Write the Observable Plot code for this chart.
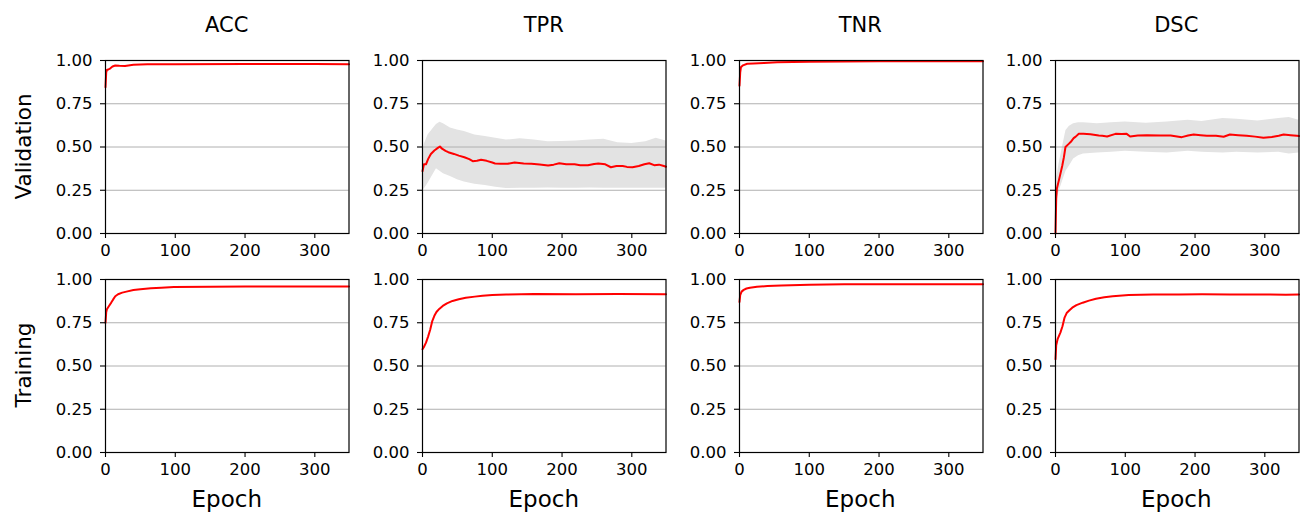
<!DOCTYPE html>
<html>
<head>
<meta charset="utf-8">
<script src="https://cdn.jsdelivr.net/npm/d3@7"></script>
<script src="https://cdn.jsdelivr.net/npm/@observablehq/plot@0.6"></script>
<style>
  html, body { margin: 0; padding: 0; background: #fff; }
  #root { position: relative; width: 1301px; height: 513px; background: #fff; overflow: hidden; font-family: "DejaVu Sans", sans-serif; }
  #root > div.panel { position: absolute; }
  #root > div.panel svg { max-width: none !important; }
  #labels { position: absolute; left: 0; top: 0; pointer-events: none; }
</style>
</head>
<body>
<div id="root"></div>
<script>
// ---------- data ----------
const metrics = ["ACC", "TPR", "TNR", "DSC"];
const phases = ["Validation", "Training"];
const xTicks = [0, 100, 200, 300];
const yTicks = [0, 0.25, 0.5, 0.75, 1.0];
const xLabel = "Epoch";

// validation mean curves: [epoch, value]
const accVal = [[0,0.846],[1,0.93],[2,0.945],[4,0.948],[7,0.955],[10,0.965],[14,0.971],[20,0.969],[28,0.968],[40,0.975],[60,0.978],[100,0.979],[200,0.98],[300,0.98],[349,0.979]];
const tprVal = [[0,0.36],[2,0.40],[5,0.40],[8,0.43],[12,0.46],[17,0.48],[22,0.495],[25,0.503],[28,0.49],[33,0.478],[37,0.47],[45,0.46],[52,0.45],[60,0.441],[67,0.43],[72,0.418],[78,0.42],[84,0.426],[92,0.42],[100,0.41],[104,0.405],[112,0.403],[122,0.403],[132,0.41],[145,0.405],[156,0.403],[168,0.399],[180,0.393],[188,0.398],[196,0.406],[206,0.40],[218,0.40],[226,0.395],[237,0.394],[246,0.402],[252,0.405],[262,0.40],[270,0.383],[278,0.39],[287,0.39],[293,0.385],[301,0.383],[310,0.39],[318,0.40],[325,0.406],[332,0.395],[339,0.398],[346,0.39],[349,0.386]];
const tnrVal = [[0,0.855],[1,0.93],[2,0.961],[5,0.972],[11,0.981],[20,0.983],[35,0.986],[54,0.99],[100,0.993],[200,0.995],[349,0.995]];
const dscVal = [[0,0.0],[1,0.2],[2,0.26],[5,0.31],[9.6,0.39],[12,0.44],[14.3,0.50],[19,0.518],[22,0.53],[26,0.551],[29,0.56],[33.4,0.576],[40,0.576],[50,0.574],[62,0.567],[67,0.565],[74,0.561],[86,0.576],[95,0.575],[102,0.576],[107,0.561],[118,0.566],[131,0.568],[150,0.566],[165,0.567],[181,0.557],[190,0.566],[198,0.572],[208,0.568],[217,0.565],[230,0.565],[241,0.559],[250,0.572],[262,0.568],[274,0.565],[286,0.56],[298,0.553],[310,0.558],[320,0.565],[327,0.572],[337,0.568],[346,0.565],[349,0.563]];

// validation spread bands
const tprBandEpoch = [0,3,8,15,20,25,30,40,50,60,75,90,105,120,140,160,180,200,220,240,260,280,300,320,335,349];
const tprBandHigh  = [0.47,0.52,0.57,0.605,0.63,0.643,0.635,0.61,0.598,0.59,0.57,0.56,0.55,0.54,0.547,0.54,0.53,0.532,0.535,0.54,0.545,0.525,0.52,0.53,0.55,0.535];
const tprBandLow   = [0.25,0.26,0.29,0.34,0.374,0.36,0.345,0.33,0.31,0.297,0.285,0.277,0.268,0.26,0.262,0.262,0.263,0.262,0.262,0.263,0.262,0.262,0.262,0.262,0.262,0.262];
const dscBandEpoch = [0,2,5,10,15,20,26,33,40,60,80,100,130,160,190,210,240,260,290,320,335,349];
const dscBandHigh  = [0.05,0.33,0.40,0.50,0.595,0.62,0.634,0.64,0.64,0.635,0.64,0.645,0.638,0.645,0.655,0.648,0.665,0.66,0.65,0.665,0.67,0.655];
const dscBandLow   = [0.0,0.2,0.24,0.3,0.36,0.39,0.43,0.45,0.46,0.465,0.47,0.475,0.47,0.465,0.475,0.47,0.465,0.47,0.465,0.47,0.46,0.465];

// training mean curves
const accTrain = [[0,0.75],[1,0.81],[2,0.828],[5,0.847],[8,0.865],[11,0.885],[14,0.903],[18,0.915],[24,0.924],[30,0.93],[40,0.939],[50,0.944],[65,0.949],[80,0.953],[98,0.956],[150,0.958],[200,0.959],[250,0.96],[300,0.96],[349,0.96]];
const tprTrain = [[0,0.597],[2,0.61],[5,0.635],[8,0.67],[11,0.71],[14,0.76],[17,0.79],[20,0.812],[24,0.83],[29,0.847],[35,0.862],[43,0.876],[52,0.886],[62,0.895],[75,0.901],[86,0.906],[100,0.91],[120,0.913],[160,0.916],[220,0.915],[280,0.916],[349,0.915]];
const tnrTrain = [[0,0.87],[1,0.91],[3,0.93],[6,0.94],[10,0.948],[15,0.952],[25,0.958],[40,0.962],[60,0.966],[100,0.97],[150,0.972],[250,0.973],[349,0.973]];
const dscTrain = [[0,0.539],[1,0.62],[3,0.655],[7,0.693],[10,0.73],[13,0.78],[16,0.806],[20,0.822],[24,0.837],[30,0.852],[39,0.866],[48,0.878],[58,0.889],[70,0.897],[82,0.903],[105,0.911],[140,0.913],[177,0.914],[210,0.915],[250,0.913],[300,0.913],[330,0.912],[349,0.914]];

// ---------- layout ----------
const panelLeft = [105, 422, 738.5, 1054.5];
const panelTop = [60, 278.5];
const PW = 243.5, PH = 173;
const ML = 70, MR = 2, MT = 10, MB = 40;

const lines = {
  Validation: {ACC: accVal, TPR: tprVal, TNR: tnrVal, DSC: dscVal},
  Training: {ACC: accTrain, TPR: tprTrain, TNR: tnrTrain, DSC: dscTrain}
};
const bands = {
  Validation: {
    TPR: {epoch: tprBandEpoch, hi: tprBandHigh, lo: tprBandLow},
    DSC: {epoch: dscBandEpoch, hi: dscBandHigh, lo: dscBandLow}
  },
  Training: {}
};

const root = document.getElementById("root");

phases.forEach((phase, r) => {
  metrics.forEach((metric, c) => {
    const lineData = lines[phase][metric].map(([e, v]) => ({e, v}));
    const band = bands[phase][metric];
    const marks = [];
    if (band) {
      const bandData = band.epoch.map((e, i) => ({e, lo: band.lo[i], hi: band.hi[i]}));
      marks.push(Plot.areaY(bandData, {x: "e", y1: "lo", y2: "hi", fill: "#e3e3e3", fillOpacity: 1}));
    }
    marks.push(Plot.gridY({ticks: [0.25, 0.5, 0.75], stroke: "#b0b0b0", strokeOpacity: 1, strokeWidth: 1}));
    marks.push(Plot.line(lineData, {x: "e", y: "v", stroke: "#ff0000", strokeWidth: 2}));
    marks.push(Plot.axisY({ticks: yTicks, tickSize: 5, tickPadding: 8, tickFormat: d => d.toFixed(2), label: null, stroke: "black", strokeWidth: 1.1, fontSize: 16.5, fill: "black"}));
    marks.push(Plot.axisX({ticks: xTicks, tickSize: 5, tickPadding: 6, tickFormat: d => String(d), label: null, stroke: "black", strokeWidth: 1.1, fontSize: 16.5, fill: "black"}));
    marks.push(Plot.frame({stroke: "black", strokeWidth: 1.2}));

    const W = PW + ML + MR, H = PH + MT + MB;
    const chart = Plot.plot({
      width: W,
      height: H,
      marginLeft: ML, marginRight: MR, marginTop: MT, marginBottom: MB,
      x: {domain: [0, 349], axis: null},
      y: {domain: [0, 1], axis: null},
      style: {fontFamily: "DejaVu Sans", fontSize: "16.5px", color: "black", background: "transparent", overflow: "visible", maxWidth: "none"},
      marks
    });
    const wrap = document.createElement("div");
    wrap.className = "panel";
    wrap.style.left = (panelLeft[c] - ML) + "px";
    wrap.style.top = (panelTop[r] - MT) + "px";
    wrap.style.width = W + "px";
    wrap.style.height = H + "px";
    wrap.appendChild(chart);
    root.appendChild(wrap);
  });
});

// ---------- titles and axis labels ----------
const ns = "http://www.w3.org/2000/svg";
const svg = document.createElementNS(ns, "svg");
svg.setAttribute("id", "labels");
svg.setAttribute("width", 1301);
svg.setAttribute("height", 513);
function addText(str, x, y, size, rotate) {
  const t = document.createElementNS(ns, "text");
  t.textContent = str;
  t.setAttribute("text-anchor", "middle");
  t.setAttribute("font-family", "DejaVu Sans");
  t.setAttribute("font-size", size);
  t.setAttribute("fill", "black");
  if (rotate) t.setAttribute("transform", `translate(${x},${y}) rotate(-90)`);
  else { t.setAttribute("x", x); t.setAttribute("y", y); }
  svg.appendChild(t);
}
metrics.forEach((m, c) => {
  const cx = panelLeft[c] + PW / 2;
  addText(m, cx, 32.3, 21);
  addText(xLabel, cx, 506.5, 23);
});
phases.forEach((p, r) => {
  addText(p, 30.5, panelTop[r] + PH / 2, 21.5, true);
});
root.appendChild(svg);
</script>
</body>
</html>
